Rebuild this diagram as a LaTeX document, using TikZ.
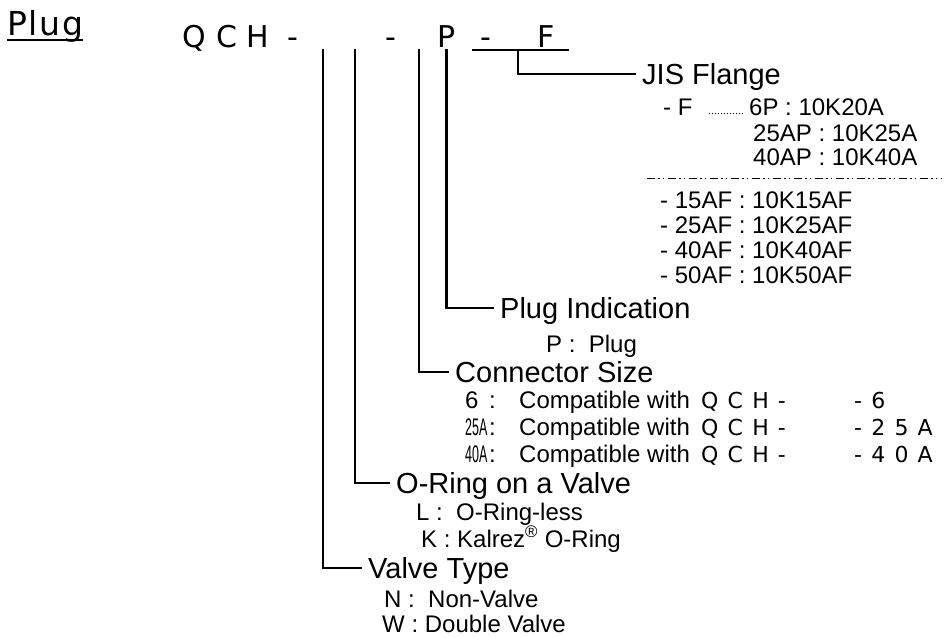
\documentclass[tikz,border=0pt]{standalone}
\usepackage{fontspec}
\setmainfont{Liberation Sans}
\newfontfamily\codefont{DejaVu Sans}
\newfontfamily\codewide[LetterSpace=10]{DejaVu Sans}
\newfontfamily\headfont[LetterSpace=5]{DejaVu Sans}
\usetikzlibrary{positioning}

\begin{document}
\begin{tikzpicture}[
        x=1pt, y=-1pt,
        every node/.style={inner sep=0pt, anchor=base west},
        title/.style={anchor=west, inner xsep=6pt, inner ysep=0pt, text height=20pt, text depth=0pt, font=\fontsize{29}{29}\selectfont},
        item/.style={font=\fontsize{24}{24}\selectfont},
        code/.style={font=\codefont\fontsize{30}{30}\selectfont},
        smallcode/.style={font=\codewide\fontsize{22}{22}\selectfont},
        tree/.style={line width=2.6pt},
        rule/.style={line width=1.8pt},
        leader/.style={line width=0.8pt, dash pattern=on 0.8pt off 2.2pt},
        sepline/.style={line width=0.9pt, dash pattern=on 8pt off 3pt on 1.5pt off 3pt on 1.5pt off 4pt}
    ]
    \useasboundingbox (0,0) rectangle (949,637);

    % Heading
    \node[font=\headfont\fontsize{33}{33}\selectfont] (plug) at (7,35) {Plug};
    \draw[rule] ([yshift=-5pt]plug.base west) -- ([yshift=-5pt]plug.base east);

    \foreach \x/\c/\n in {182/Q/hq, 216/C/hc, 246/H/hh, 287/-/d0, 385/-/d1, 437/P/pp, 480/-/d2, 537/F/ff}
        \node[code] (\n) at (\x,47) {\c};

    \coordinate (vt) at (323,49);
    \coordinate (or) at (355,49);
    \coordinate (cs) at (419,49);
    \coordinate (fl) at (472,50);
    \coordinate (fr) at (569,50);
    \coordinate (fm) at (518,50);

    % Titles
    \node[title] (jis) at (636,74) {JIS Flange};
    \node[title] (plugind) at (494,308) {Plug Indication};
    \node[title] (connsize) at (449,372) {Connector Size};
    \node[title] (oring) at (390,483) {O-Ring on a Valve};
    \node[title] (valvetype) at (362,568) {Valve Type};

    % Flange list
    \node[item] (dashf) at (663,115) {- F};
    \node[item] (sixp) at (749,115) {6P : 10K20A};
    \node[item] (ap25) at (753,141) {25AP : 10K25A};
    \node[item] (ap40) at (753,165) {40AP : 10K40A};
    \coordinate (sepL) at (647,178);
    \coordinate (sepR) at (942,178);
    \foreach \y/\n in {208/15, 233/25, 258/40, 283/50}
        \node[item] (af\n) at (660,\y) {- \n AF : 10K\n AF};

    % Plug indication
    \node[item] (pplug) at (546,352) {P :\ \ Plug};

    % Connector size
    \foreach \y/\k/\t [count=\i] in {408/6/6, 435/\scalebox{0.52}[1]{25A}/2 5 A, 462/\scalebox{0.52}[1]{40A}/4 0 A} {
        \node[item] (key\i) at (465,\y) {\k};
        \node[item] (col\i) at (489,\y) {:};
        \node[item] (desc\i) at (519,\y) {Compatible with};
        \node[smallcode] (cq\i) at (701,\y) {Q C H -};
        \node[smallcode] (tail\i) at (854,\y) {- \t};
    }

    % O-Ring
    \node[item] (lless) at (416,520) {L :\ \ O-Ring-less};
    \node[item] (kalrez) at (421,547) {K : Kalrez\textsuperscript{®} O-Ring};

    % Valve type
    \node[item] (nonv) at (384,607) {N :\ \ Non-Valve};
    \node[item] (dblv) at (382,632) {W : Double Valve};

    % Lines
    \draw[rule] (fl) -- (fr);
    \draw[tree] (fm) |- (jis.west);
    \draw[tree] ([yshift=-2pt]pp.south) |- (plugind.west);
    \draw[tree] (cs) |- (connsize.west);
    \draw[tree] (or) |- (oring.west);
    \draw[tree] (vt) |- (valvetype.west);
    \draw[leader, shorten <=16pt, shorten >=6pt] ([yshift=2pt]dashf.base east) -- ([yshift=2pt]sixp.base west);
    \draw[sepline] (sepL) -- (sepR);
\end{tikzpicture}
\end{document}
